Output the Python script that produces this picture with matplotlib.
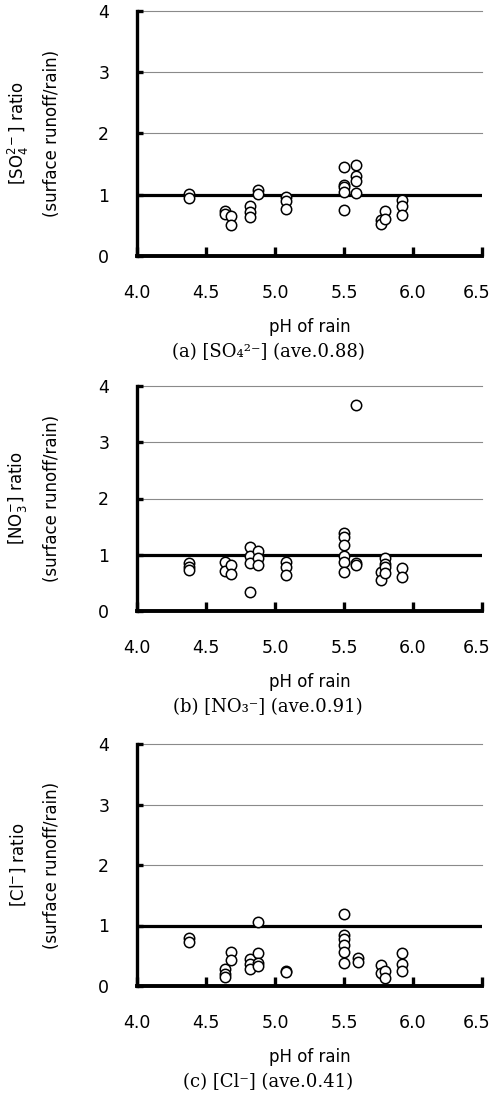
import matplotlib
matplotlib.use("Agg")
import matplotlib.pyplot as plt
import matplotlib.transforms as mtransforms

# =====================================================================
# DATA: runoff/rain concentration ratio vs. pH of rain
# =====================================================================
ph_so4 = [4.38, 4.38, 4.64, 4.64, 4.68, 4.68, 4.82, 4.82, 4.82, 4.88, 4.88,
          5.08, 5.08, 5.08, 5.50, 5.50, 5.50, 5.50, 5.50, 5.59, 5.59, 5.59, 5.59,
          5.77, 5.77, 5.80, 5.80, 5.92, 5.92, 5.92]
ratio_so4 = [1.02, 0.94, 0.73, 0.69, 0.66, 0.51, 0.81, 0.72, 0.63, 1.08, 1.01,
             0.96, 0.90, 0.77, 1.46, 1.16, 1.12, 1.05, 0.75, 1.49, 1.30, 1.23, 1.03,
             0.59, 0.53, 0.74, 0.60, 0.92, 0.81, 0.67]

ph_no3 = [4.38, 4.38, 4.38, 4.64, 4.64, 4.68, 4.68, 4.82, 4.82, 4.82, 4.82,
          4.88, 4.88, 4.88, 5.08, 5.08, 5.08, 5.50, 5.50, 5.50, 5.50, 5.50, 5.50,
          5.59, 5.59, 5.59, 5.77, 5.77, 5.80, 5.80, 5.80, 5.80, 5.92, 5.92]
ratio_no3 = [0.85, 0.78, 0.73, 0.87, 0.72, 0.82, 0.66, 1.13, 0.97, 0.85, 0.33,
             1.06, 0.95, 0.81, 0.87, 0.78, 0.64, 1.38, 1.31, 1.17, 0.97, 0.88, 0.69,
             3.66, 0.85, 0.82, 0.69, 0.55, 0.94, 0.84, 0.78, 0.68, 0.77, 0.61]

ph_cl = [4.38, 4.38, 4.64, 4.64, 4.64, 4.68, 4.68, 4.82, 4.82, 4.82,
         4.88, 4.88, 4.88, 4.88, 5.08, 5.08, 5.50, 5.50, 5.50, 5.50, 5.50, 5.50,
         5.60, 5.60, 5.77, 5.77, 5.80, 5.80, 5.92, 5.92, 5.92]
ratio_cl = [0.79, 0.72, 0.28, 0.20, 0.15, 0.56, 0.43, 0.44, 0.36, 0.28,
            1.06, 0.55, 0.38, 0.33, 0.25, 0.23, 1.19, 0.84, 0.78, 0.68, 0.57, 0.38,
            0.47, 0.40, 0.34, 0.22, 0.25, 0.14, 0.54, 0.37, 0.25]

y_labels = [r"[SO$_4^{2-}$] ratio", r"[NO$_3^{-}$] ratio", r"[Cl$^{-}$] ratio"]
captions = ["(a) [SO₄²⁻] (ave.0.88)", "(b) [NO₃⁻] (ave.0.91)", "(c) [Cl⁻] (ave.0.41)"]

x_ticks = [4.0, 4.5, 5.0, 5.5, 6.0, 6.5]
y_ticks = [0, 1, 2, 3, 4]

# axes boxes in pixels: (top, bottom)
FIG_W, FIG_H = 493, 1100
AX_LEFT, AX_RIGHT = 137, 482
caixas = [(11, 256), (386, 611), (744, 986)]


# =====================================================================
# DRAWING
# =====================================================================
def desenhar_painel(fig, caixa, ph, ratio, ylabel, caption):
    top, bottom = caixa
    ax = fig.add_axes([AX_LEFT / FIG_W, 1 - bottom / FIG_H,
                       (AX_RIGHT - AX_LEFT) / FIG_W, (bottom - top) / FIG_H])

    ax.set_xlim(4.0, 6.5)
    ax.set_ylim(0, 4)
    ax.set_xticks(x_ticks)
    ax.set_xticklabels([f"{t:.1f}" for t in x_ticks])
    ax.set_yticks(y_ticks)

    # thin grey grid, thick reference line at ratio = 1
    for g in [2, 3, 4]:
        ax.axhline(g, color="#8a8a8a", linewidth=0.8, zorder=1, clip_on=False)
    ax.axhline(1, color="black", linewidth=2.3, zorder=2)

    ax.scatter(ph, ratio, s=56, facecolor="white", edgecolor="black",
               linewidth=1.1, zorder=3, clip_on=False)

    for side in ["top", "right"]:
        ax.spines[side].set_visible(False)
    ax.spines["left"].set_linewidth(2.4)
    ax.spines["bottom"].set_linewidth(2.8)

    ax.tick_params(axis="y", direction="in", length=4, width=2.4, pad=20,
                   labelsize=12.5)
    ax.tick_params(axis="x", direction="in", length=6.5, width=2.4, pad=20,
                   labelsize=12.5)

    # last x label sits right at the figure edge, nudge it inside
    ultimo = ax.get_xticklabels()[-1]
    ultimo.set_transform(ultimo.get_transform() +
                         mtransforms.ScaledTranslation(-5 / 100, 0, fig.dpi_scale_trans))

    ax.set_xlabel("pH of rain", fontsize=12, labelpad=12)

    meio = 1 - (top + bottom) / 2 / FIG_H
    fig.text(18 / FIG_W, meio, ylabel, rotation=90, ha="center", va="center",
             fontsize=12)
    fig.text(52 / FIG_W, meio, "(surface runoff/rain)", rotation=90,
             ha="center", va="center", fontsize=12)

    fig.text(268 / FIG_W, 1 - (bottom + 96) / FIG_H, caption, ha="center",
             va="center", fontsize=13, family="DejaVu Serif")
    return ax


fig = plt.figure(figsize=(FIG_W / 100, FIG_H / 100), dpi=100)
dados = [(ph_so4, ratio_so4), (ph_no3, ratio_no3), (ph_cl, ratio_cl)]
for i, (ph, ratio) in enumerate(dados):
    desenhar_painel(fig, caixas[i], ph, ratio, y_labels[i], captions[i])

fig.savefig("out.png", dpi=100)
